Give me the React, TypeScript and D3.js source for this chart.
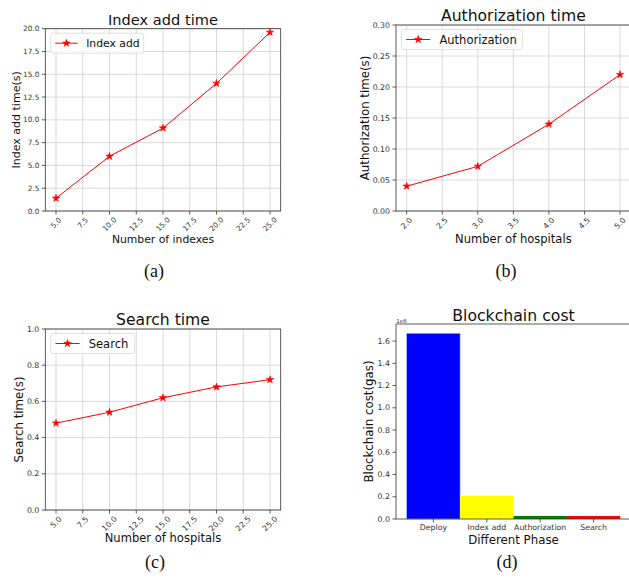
import React from 'react';
import * as d3 from 'd3';

// (a) Index add time
const indexCounts = [5, 10, 15, 20, 25];
const indexAddTimes = [1.4, 6.0, 9.1, 14.0, 19.6];
const indexXTicks = [5, 7.5, 10, 12.5, 15, 17.5, 20, 22.5, 25];
const indexYTicks = [0, 2.5, 5, 7.5, 10, 12.5, 15, 17.5, 20];

// (b) Authorization time
const authHospitals = [2, 3, 4, 5];
const authTimes = [0.04, 0.072, 0.14, 0.22];
const authXTicks = [2, 2.5, 3, 3.5, 4, 4.5, 5];
const authYTicks = [0, 0.05, 0.1, 0.15, 0.2, 0.25, 0.3];

// (c) Search time
const searchHospitals = [5, 10, 15, 20, 25];
const searchTimes = [0.48, 0.54, 0.62, 0.68, 0.72];
const searchYTicks = [0, 0.2, 0.4, 0.6, 0.8, 1.0];

// (d) Blockchain cost
const phases = ['Deploy', 'Index add', 'Authorization', 'Search'];
const gasCosts = [1.67e6, 0.21e6, 0.027e6, 0.027e6];
const phaseColors = ['#0000ff', '#ffff00', '#008000', '#ff0000'];
const gasYTicks = [0, 0.2, 0.4, 0.6, 0.8, 1.0, 1.2, 1.4, 1.6];

const FONT = 'DejaVu Sans, sans-serif';
const AXIS = '#333333';
const GRID = '#cfcfcf';
const star = d3.symbol().type(d3.symbolStar).size(17);

interface Box { left: number; right: number; top: number; bottom: number; }

interface LineProps {
  box: Box;
  s: number; // font scale of this sub-figure
  title: string;
  xLabel: string;
  yLabel: string;
  yLabelX: number;
  legend: string;
  legendW: number;
  xs: number[];
  ys: number[];
  xDomain: [number, number];
  yDomain: [number, number];
  xTicks: number[];
  yTicks: number[];
  xFmt: (d: number) => string;
  yFmt: (d: number) => string;
}

const LinePanel: React.FC<LineProps> = p => {
  const { box, s } = p;
  const x = d3.scaleLinear().domain(p.xDomain).range([box.left, box.right]);
  const y = d3.scaleLinear().domain(p.yDomain).range([box.bottom, box.top]);
  const pts = p.xs.map((v, i) => [x(v), y(p.ys[i])] as [number, number]);
  const line = d3.line()(pts) || '';
  const cx = (box.left + box.right) / 2;
  const cy = (box.top + box.bottom) / 2;
  const tickFs = 7.3 * s;
  const lx = box.left + 5.4;
  const ly = box.top + 4.5;
  return (
    <g>
      {p.xTicks.map(t => (
        <line key={'gx' + t} x1={x(t)} x2={x(t)} y1={box.top} y2={box.bottom} stroke={GRID} strokeWidth={0.8} />
      ))}
      {p.yTicks.map(t => (
        <line key={'gy' + t} x1={box.left} x2={box.right} y1={y(t)} y2={y(t)} stroke={GRID} strokeWidth={0.8} />
      ))}
      <rect x={box.left} y={box.top} width={box.right - box.left} height={box.bottom - box.top}
        fill="none" stroke={AXIS} strokeWidth={0.8} />
      {p.xTicks.map(t => {
        const lab = p.xFmt(t);
        const w = lab.length * 0.55 * tickFs;
        const h = (w + tickFs) * 0.707;
        return (
          <g key={'tx' + t}>
            <line x1={x(t)} x2={x(t)} y1={box.bottom} y2={box.bottom + 3.5} stroke={AXIS} strokeWidth={0.8} />
            <text transform={`translate(${x(t)},${box.bottom + 5 + h / 2}) rotate(-45)`} textAnchor="middle"
              dominantBaseline="central" fontSize={tickFs} fill={AXIS} fontFamily={FONT}>{lab}</text>
          </g>
        );
      })}
      {p.yTicks.map(t => (
        <g key={'ty' + t}>
          <line x1={box.left - 3.5} x2={box.left} y1={y(t)} y2={y(t)} stroke={AXIS} strokeWidth={0.8} />
          <text x={box.left - 6} y={y(t)} textAnchor="end" dominantBaseline="central" fontSize={tickFs}
            fill={AXIS} fontFamily={FONT}>{p.yFmt(t)}</text>
        </g>
      ))}
      <path d={line} fill="none" stroke="#ff0000" strokeWidth={1} />
      {pts.map((d, i) => (
        <path key={'m' + i} d={star() || ''} transform={`translate(${d[0]},${d[1]})`} fill="#ff0000" stroke="#ff0000" strokeWidth={0.6} />
      ))}
      <rect x={lx} y={ly} width={p.legendW} height={20} rx={2.5} fill="white" fillOpacity={0.8}
        stroke="#d8d8d8" strokeWidth={0.8} />
      <line x1={lx + 4.5 * s} x2={lx + 27 * s} y1={ly + 10} y2={ly + 10} stroke="#ff0000" strokeWidth={1} />
      <path d={star() || ''} transform={`translate(${lx + 15.7 * s},${ly + 10})`} fill="#ff0000" stroke="#ff0000" strokeWidth={0.6} />
      <text x={lx + 35.5 * s} y={ly + 10.5} dominantBaseline="central" fontSize={10.8 * s} fill="#111" fontFamily={FONT}>{p.legend}</text>
      <text x={cx} y={box.top - 9.5} textAnchor="middle" dominantBaseline="central" fontSize={14.6 * s} fill="#111" fontFamily={FONT}>{p.title}</text>
      <text x={cx} y={box.bottom + 28} textAnchor="middle" dominantBaseline="central" fontSize={10.8 * s} fill="#111" fontFamily={FONT}>{p.xLabel}</text>
      <text transform={`translate(${p.yLabelX},${cy}) rotate(-90)`} textAnchor="middle" dominantBaseline="central"
        fontSize={11 * s} fill="#111" fontFamily={FONT}>{p.yLabel}</text>
    </g>
  );
};

const BarPanel: React.FC<{ box: Box }> = ({ box }) => {
  const x = d3.scaleBand().domain(phases).range([box.left + 10.7, box.right - 10.7]).padding(0);
  const y = d3.scaleLinear().domain([0, 1.7535]).range([box.bottom, box.top]);
  const cx = (box.left + box.right) / 2;
  const cy = (box.top + box.bottom) / 2;
  return (
    <g>
      {phases.map((ph, i) => (
        <rect key={ph} x={x(ph)} y={y(gasCosts[i] / 1e6)} width={x.bandwidth()}
          height={box.bottom - y(gasCosts[i] / 1e6)} fill={phaseColors[i]}
          stroke={i === 0 ? '#9fb4ff' : 'none'} strokeWidth={0.6} />
      ))}
      <rect x={box.left} y={box.top} width={box.right - box.left} height={box.bottom - box.top}
        fill="none" stroke={AXIS} strokeWidth={0.8} />
      {gasYTicks.map(t => (
        <g key={'gy' + t}>
          <line x1={box.left - 3.5} x2={box.left} y1={y(t)} y2={y(t)} stroke={AXIS} strokeWidth={0.8} />
          <text x={box.left - 6} y={y(t)} textAnchor="end" dominantBaseline="central" fontSize={7.8}
            fill={AXIS} fontFamily={FONT}>{t.toFixed(1)}</text>
        </g>
      ))}
      {phases.map(ph => {
        const px = (x(ph) || 0) + x.bandwidth() / 2;
        return (
          <g key={'tx' + ph}>
            <line x1={px} x2={px} y1={box.bottom} y2={box.bottom + 3.5} stroke={AXIS} strokeWidth={0.8} />
            <text x={px} y={box.bottom + 8.5} textAnchor="middle" dominantBaseline="central" fontSize={7.8}
              fill={AXIS} fontFamily={FONT}>{ph}</text>
          </g>
        );
      })}
      <text x={box.left + 5.5} y={box.top - 1.5} textAnchor="middle" fontSize={5.5} fill={AXIS} fontFamily={FONT}>1e6</text>
      <text x={cx} y={box.top - 9} textAnchor="middle" dominantBaseline="central" fontSize={15.7} fill="#111" fontFamily={FONT}>Blockchain cost</text>
      <text x={cx} y={box.bottom + 21} textAnchor="middle" dominantBaseline="central" fontSize={11.8} fill="#111" fontFamily={FONT}>Different Phase</text>
      <text transform={`translate(${box.left - 27},${cy}) rotate(-90)`} textAnchor="middle" dominantBaseline="central"
        fontSize={11.8} fill="#111" fontFamily={FONT}>Blockchain cost(gas)</text>
    </g>
  );
};

const Caption: React.FC<{ x: number; y: number; label: string }> = ({ x, y, label }) => (
  <text x={x} y={y} textAnchor="middle" dominantBaseline="central" fontSize={18}
    fontFamily="Liberation Serif, Times New Roman, serif" fill="#111">{label}</text>
);

const App: React.FC = () => {
  const f1 = (d: number) => d.toFixed(1);
  const f2 = (d: number) => d.toFixed(2);
  return (
    <svg width={629} height={579} style={{ position: 'absolute', left: 0, top: 0, background: 'white' }}>
      <LinePanel box={{ left: 45.3, right: 280.7, top: 28.7, bottom: 211 }} s={1} title="Index add time"
        xLabel="Number of indexes" yLabel="Index add time(s)" yLabelX={16} legend="Index add" legendW={93}
        xs={indexCounts} ys={indexAddTimes} xDomain={[4, 26]} yDomain={[0, 20]}
        xTicks={indexXTicks} yTicks={indexYTicks} xFmt={f1} yFmt={f1} />
      <LinePanel box={{ left: 396, right: 630.7, top: 25, bottom: 211 }} s={1.07} title="Authorization time"
        xLabel="Number of hospitals" yLabel="Authorization time(s)" yLabelX={365} legend="Authorization" legendW={121}
        xs={authHospitals} ys={authTimes} xDomain={[1.85, 5.15]} yDomain={[0, 0.3]}
        xTicks={authXTicks} yTicks={authYTicks} xFmt={f1} yFmt={f2} />
      <LinePanel box={{ left: 45.3, right: 280.7, top: 329, bottom: 510 }} s={1.07} title="Search time"
        xLabel="Number of hospitals" yLabel="Search time(s)" yLabelX={19} legend="Search" legendW={84}
        xs={searchHospitals} ys={searchTimes} xDomain={[4, 26]} yDomain={[0, 1]}
        xTicks={indexXTicks} yTicks={searchYTicks} xFmt={f1} yFmt={f1} />
      <BarPanel box={{ left: 396, right: 631, top: 324, bottom: 519 }} />
      <Caption x={154} y={271} label="(a)" />
      <Caption x={506} y={271} label="(b)" />
      <Caption x={155} y={562} label="(c)" />
      <Caption x={507} y={562} label="(d)" />
    </svg>
  );
};

export default App;
